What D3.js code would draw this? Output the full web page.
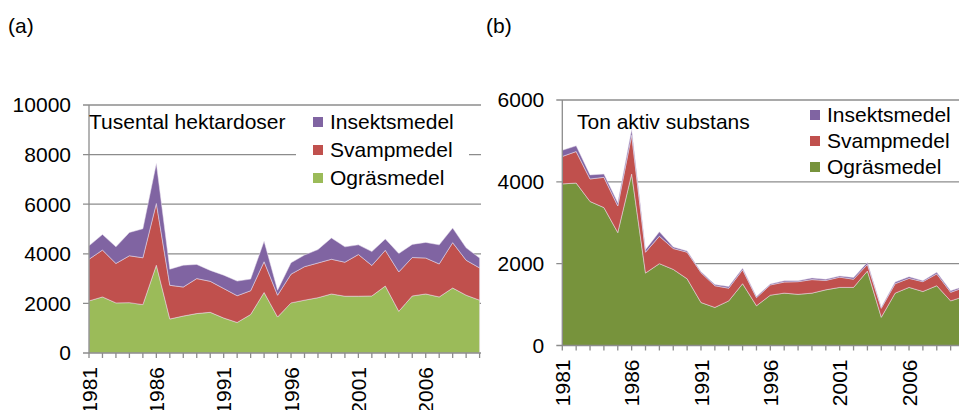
<!DOCTYPE html>
<html>
<head>
<meta charset="utf-8">
<script src="https://cdn.jsdelivr.net/npm/d3@7"></script>
<style>
  body { margin: 0; background: #fff; }
  svg { display: block; font-family: "Liberation Sans", Arial, sans-serif; }
</style>
</head>
<body>
<svg id="chart" width="959" height="410"></svg>
<script>
// År
const years = d3.range(1981, 2011);

// (a) Tusental hektardoser
const ograsA  = [2100, 2260, 2020, 2030, 1950, 3540, 1370, 1490, 1590, 1640, 1410, 1230, 1550, 2440, 1450,
                 2020, 2130, 2230, 2380, 2290, 2290, 2300, 2700, 1680, 2300, 2380, 2260, 2620, 2330, 2130];
const svampA  = [1680, 1890, 1590, 1890, 1890, 2490, 1360, 1170, 1410, 1250, 1190, 1080, 960, 1240, 880,
                 1160, 1350, 1400, 1400, 1370, 1680, 1230, 1440, 1590, 1550, 1450, 1330, 1830, 1410, 1300];
const insektA = [540, 630, 670, 940, 1170, 1610, 650, 880, 570, 440, 540, 590, 470, 830, 200,
                 460, 470, 540, 860, 620, 390, 560, 460, 740, 530, 630, 770, 590, 500, 400];

// (b) Ton aktiv substans
const ograsB  = [3950, 3970, 3520, 3370, 2760, 4190, 1770, 2000, 1860, 1630, 1050, 930, 1090, 1510, 970,
                 1230, 1280, 1250, 1280, 1360, 1420, 1420, 1820, 690, 1280, 1420, 1320, 1460, 1090, 1200];
const svampB  = [670, 770, 550, 740, 650, 950, 510, 670, 510, 650, 730, 530, 310, 340, 200,
                 250, 270, 310, 330, 230, 250, 200, 160, 220, 230, 220, 240, 290, 210, 220];
const insektB = [150, 140, 100, 80, 80, 140, 60, 110, 40, 30, 25, 30, 40, 40, 25,
                 25, 30, 25, 40, 30, 30, 40, 50, 25, 40, 40, 25, 40, 40, 30];

const seriesNames = ["Ogräsmedel", "Svampmedel", "Insektsmedel"];
const yTicksA = [0, 2000, 4000, 6000, 8000, 10000];
const yTicksB = [0, 2000, 4000, 6000];
const yearLabels = [1981, 1986, 1991, 1996, 2001, 2006];

const svg = d3.select("#chart");
const gridColor = "#8c8c8c";
const fontSize = 21;

function panel(opt) {
    const g = svg.append("g");
    const x = d3.scaleLinear().domain([1981, 2010]).range([opt.left, opt.right]);
    const y = d3.scaleLinear().domain([0, opt.ymax]).range([opt.bottom, opt.top]);

    const rows = years.map((yr, i) => ({
        year: yr,
        "Ogräsmedel": opt.data[0][i],
        "Svampmedel": opt.data[1][i],
        "Insektsmedel": opt.data[2][i]
    }));
    const stacked = d3.stack().keys(seriesNames)(rows);

    // rutnät
    g.selectAll(".grid")
        .data(opt.yTicks.filter(d => d > 0))
        .enter().append("line")
        .attr("x1", opt.left - 6).attr("x2", 959)
        .attr("y1", d => y(d)).attr("y2", d => y(d))
        .attr("stroke", gridColor).attr("stroke-width", 1.3);

    // ytor
    const area = d3.area()
        .x(d => x(d.data.year))
        .y0(d => y(d[0]))
        .y1(d => y(d[1]));
    g.selectAll(".layer")
        .data(stacked)
        .enter().append("path")
        .attr("d", area)
        .attr("fill", (d, i) => opt.colors[i])
        .attr("stroke", "#e8e0ee")
        .attr("stroke-width", 0.5);

    // legend med vit bakgrund
    if (opt.legendBg) {
        g.append("rect")
            .attr("x", opt.legendBg[0]).attr("y", opt.legendBg[1])
            .attr("width", opt.legendBg[2]).attr("height", opt.legendBg[3])
            .attr("fill", "#fff");
    }
    const legendOrder = [2, 1, 0];
    legendOrder.forEach((k, i) => {
        const by = opt.legY + i * opt.legStep;
        g.append("rect")
            .attr("x", opt.legX).attr("y", by - 12)
            .attr("width", 10).attr("height", 10)
            .attr("fill", opt.colors[k]);
        g.append("text")
            .attr("x", opt.legX + 17).attr("y", by)
            .attr("font-size", fontSize)
            .text(seriesNames[k]);
    });

    // y-axel
    g.append("line")
        .attr("x1", opt.left).attr("x2", opt.left)
        .attr("y1", opt.top).attr("y2", opt.bottom)
        .attr("stroke", gridColor).attr("stroke-width", 1.3);
    g.selectAll(".ylab")
        .data(opt.yTicks)
        .enter().append("text")
        .attr("x", opt.left - 18)
        .attr("y", d => y(d))
        .attr("dy", "0.35em")
        .attr("text-anchor", "end")
        .attr("font-size", fontSize)
        .text(d => d);

    // x-axel
    g.append("line")
        .attr("x1", opt.left - 6).attr("x2", 959)
        .attr("y1", opt.bottom).attr("y2", opt.bottom)
        .attr("stroke", gridColor).attr("stroke-width", 1.3);
    g.selectAll(".xtick")
        .data(years)
        .enter().append("line")
        .attr("x1", d => x(d)).attr("x2", d => x(d))
        .attr("y1", opt.bottom).attr("y2", opt.bottom + 5)
        .attr("stroke", gridColor).attr("stroke-width", 1.3);
    g.selectAll(".xlab")
        .data(yearLabels)
        .enter().append("text")
        .attr("transform", d => `translate(${x(d)},${opt.bottom + 14}) rotate(-90)`)
        .attr("dy", "0.36em")
        .attr("text-anchor", "end")
        .attr("font-size", fontSize)
        .text(d => d);

    // titel
    g.append("text")
        .attr("x", opt.titleX).attr("y", 129)
        .attr("font-size", fontSize)
        .text(opt.title);
    g.append("text")
        .attr("x", opt.tagX).attr("y", 33)
        .attr("font-size", fontSize)
        .text(opt.tag);
}

// panel (a) ritas först, (b) ovanpå
const clipA = svg.append("defs").append("clipPath").attr("id", "clipA");
clipA.append("rect").attr("x", 0).attr("y", 0).attr("width", 481).attr("height", 410);

panel({
    left: 89, right: 479.6, top: 105, bottom: 353,
    ymax: 10000, yTicks: yTicksA,
    data: [ograsA, svampA, insektA],
    colors: ["#9bbb59", "#c0504d", "#8064a2"],
    legX: 313, legY: 129, legStep: 28,
    legendBg: [296, 108, 173, 92],
    title: "Tusental hektardoser", titleX: 89,
    tag: "(a)", tagX: 8
});
svg.select("g").attr("clip-path", "url(#clipA)");

panel({
    left: 562.3, right: 964.5, top: 100, bottom: 345.5,
    ymax: 6000, yTicks: yTicksB,
    data: [ograsB, svampB, insektB],
    colors: ["#77933c", "#c0504d", "#8064a2"],
    legX: 810, legY: 122, legStep: 26,
    legendBg: null,
    title: "Ton aktiv substans", titleX: 577,
    tag: "(b)", tagX: 486
});
</script>
</body>
</html>
